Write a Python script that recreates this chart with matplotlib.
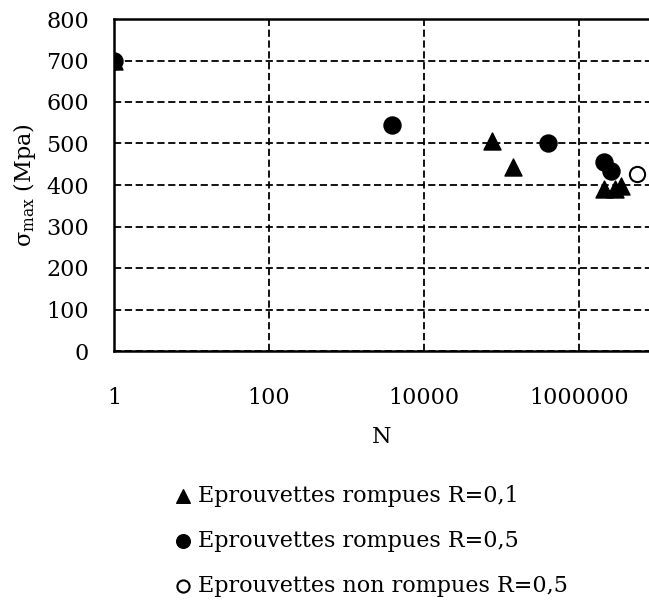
import numpy as np
from matplotlib import pyplot as plt

# cycles a la rupture et contrainte max
n_r01 = [1, 74000, 138000, 2100000, 2900000, 3500000]
s_r01 = [700, 505, 444, 390, 390, 398]

n_r05 = [1, 3900, 390000, 2100000, 2600000]
s_r05 = [700, 545, 500, 455, 434]

n_nr05 = [5600000]
s_nr05 = [426]

labels = ["Eprouvettes rompues R=0,1",
          "Eprouvettes rompues R=0,5",
          "Eprouvettes non rompues R=0,5"]

x_ticks = [1, 100, 10000, 1000000]
y_ticks = [0, 100, 200, 300, 400, 500, 600, 700, 800]

plt.rcParams['font.family'] = ['DejaVu Serif']
plt.rcParams['mathtext.fontset'] = 'dejavuserif'
plt.rcParams['font.size'] = 16

fig = plt.figure(figsize=(6.49, 6.03), dpi=100)
ax = fig.add_axes([114 / 649, 1 - 351 / 603, 1 - 114 / 649, 332 / 603])

ax.scatter(n_r01, s_r01, marker='^', s=150, color='black', zorder=3, label=labels[0])
ax.scatter(n_r05, s_r05, marker='o', s=150, color='black', zorder=3, label=labels[1])
ax.scatter(n_nr05, s_nr05, marker='o', s=120, facecolor='white', edgecolor='black',
           linewidth=1.5, zorder=3, label=labels[2])

ax.set_xscale('log')
ax.set_xlim(1, 10 ** 6.9)
ax.set_ylim(0, 800)
ax.set_xticks(x_ticks)
ax.set_xticklabels([str(t) for t in x_ticks])
ax.xaxis.set_minor_locator(plt.NullLocator())
ax.set_yticks(y_ticks)
ax.tick_params(axis='both', length=0)
ax.tick_params(axis='y', pad=18)
ax.tick_params(axis='x', pad=26)

ax.grid(True, color='black', linestyle=(0, (4, 2)), linewidth=1.3)
ax.set_axisbelow(True)
for side in ['left', 'bottom', 'top']:
    ax.spines[side].set_linewidth(1.8)
ax.spines['right'].set_visible(False)

ax.set_xlabel("N", labelpad=12)
ax.set_ylabel(r"σ$_{\rm max}$ (Mpa)", labelpad=6)

fig.legend(loc='upper left', bbox_to_anchor=(165 / 649, 1 - 474 / 603), frameon=False,
           handlelength=0.6, handletextpad=0.4, labelspacing=1.03, markerscale=0.8,
           borderpad=0)

fig.savefig("out.png", dpi=100)
